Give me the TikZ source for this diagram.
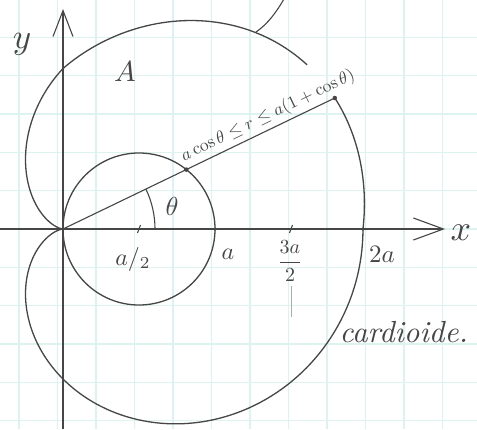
\documentclass[tikz,border=0pt]{standalone}
\usetikzlibrary{arrows.meta}
\definecolor{ink}{RGB}{70,70,70}
\definecolor{gridc}{RGB}{220,243,240}
\begin{document}
\begin{tikzpicture}[x=1pt,y=-1pt,
  curve/.style={draw=ink,line width=1.3pt,line join=round},
  axis/.style={draw=ink,line width=1.1pt},
  gridline/.style={draw=gridc,line width=1.3pt},
  lbl/.style={text=ink,inner sep=0pt,transform shape},
  dot/.style={circle,fill=ink,inner sep=0pt,minimum size=4.5pt}]
\useasboundingbox[fill=white] (0,0) rectangle (477,429);
% grid paper
\foreach \k in {0,...,11} \draw[gridline] ({19+38.5*\k},0) -- ({19+38.5*\k},429);
\foreach \k in {-5,...,5} \draw[gridline] (0,{229+38.3*\k}) -- (477,{229+38.3*\k});
% named points
\coordinate (O) at (63,229);
\coordinate (C) at (139,229);
\coordinate (P) at (334.8,98);
\coordinate (Q) at (186.3,169.6);
\coordinate (Ha) at (215,229);
\coordinate (H2a) at (363,229);
\coordinate (Xs) at (0,229);
\coordinate (Xe) at (445,229);
\coordinate (Ys) at (63,429);
\coordinate (Ye) at (63,9);
\coordinate (T1) at (139,229);
\coordinate (T3) at (291,229);
\coordinate (Ct) at (256,32);
\coordinate (Cu) at (284,-1);
% axes
\draw[axis,-{Straight Barb[length=30pt,width=22pt,line width=1.1pt]}] (Xs) -- (Xe);
\draw[axis,-{Straight Barb[length=26pt,width=20pt,line width=1.1pt]}] (Ys) -- (Ye);
% cardioid (hand drawn: upper half a bit fuller)
\draw[curve] plot[domain=0:25.4,samples=30,variable=\t]
  ({63+150*(1+cos(\t))*cos(\t)+18*sin(2*\t)},{229-160.5*(1+cos(\t))*sin(\t)});
\draw[curve] plot[domain=34:90,samples=50,variable=\t]
  ({63+150*(1+cos(\t))*cos(\t)+18*sin(2*\t)},{229-160.5*(1+cos(\t))*sin(\t)})
  -- plot[domain=90:180,samples=70,variable=\t]
  ({63+150*(1+cos(\t))*cos(\t)},{229-160.5*(1+cos(\t))*sin(\t)});
\draw[curve] plot[domain=180:360,samples=140,variable=\t]
  ({63+150*(1+cos(\t))*cos(\t)},{229-150*(1+cos(\t))*sin(\t)});
% callout line at the top
\draw[curve,line width=1.1pt] (Ct) .. controls (268,24) and (277,11) .. (Cu);
% circle r = a cos theta
\draw[curve] (C) circle[radius=76];
% ray and angle
\draw[curve,line width=1.1pt] (O) -- (P);
\draw[curve,line width=1.1pt] (O) ++(92,0) arc[start angle=0,end angle=-25.7,radius=92];
% ticks
\draw[curve,line width=1.1pt] (T1) ++(-1.5,4) -- ++(3,-8);
\draw[curve,line width=1.1pt] (T3) ++(-1.5,4) -- ++(3,-8);
\draw[draw=ink!45,line width=0.9pt] (291,286) -- (291,317);
% dots
\node[dot] (p) at (P) {};
\node[dot] (q) at (Q) {};
\node[dot,minimum size=3.5pt] (ha) at (Ha) {};
\node[dot,minimum size=3.5pt] (h2a) at (H2a) {};
% labels
\node[lbl,scale=3.5] (ylab) at (22,44) {$y$};
\node[lbl,scale=3.6] (xlab) at (461,233) {$x$};
\node[lbl,scale=2.9] (Alab) at (125,72) {$A$};
\node[lbl,scale=2.6] (th) at (172,206) {$\theta$};
\node[lbl,scale=2.4] (a2) at (133,259) {$a/_{2}$};
\node[lbl,scale=2.4] (alab) at (228,254) {$a$};
\node[lbl,scale=2.0] (a32) at (290,261) {$\displaystyle\frac{3a}{2}$};
\node[lbl,scale=2.5] (a2a) at (382,254) {$2a$};
\node[lbl,scale=1.75,rotate=25.7] (ineq) at (268,116)
  {$a\cos\theta\le r\le a(1+\cos\theta)$};
\node[lbl,scale=3.05,anchor=base west] (card) at (339,342) {\itshape cardioide.};
\end{tikzpicture}
\end{document}
